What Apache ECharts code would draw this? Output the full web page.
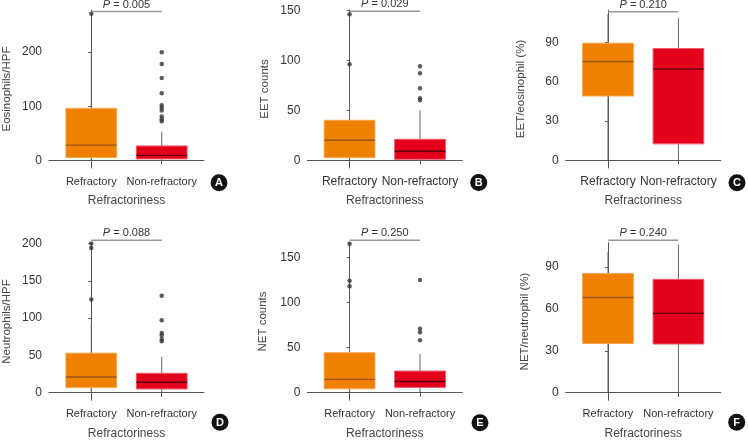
<!DOCTYPE html>
<html><head><meta charset="utf-8">
<script src="https://cdn.jsdelivr.net/npm/echarts@6/dist/echarts.min.js"></script>
<style>html,body{margin:0;padding:0;background:#fff}#c{width:748px;height:441px}</style>
</head><body><div id="c"></div>
<script>
// ---------- data ----------
const categories = ['Refractory', 'Non-refractory'];
const panelLetters = ['A', 'B', 'C', 'D', 'E', 'F'];
const xName = 'Refractoriness';
const yNames = ['Eosinophils/HPF', 'EET counts', 'EET/eosinophil (%)', 'Neutrophils/HPF', 'NET counts', 'NET/neutrophil (%)'];
const yTicks = [[0, 100, 200], [0, 50, 100, 150], [0, 30, 60, 90], [0, 50, 100, 150, 200], [0, 50, 100, 150], [0, 30, 60, 90]];
const pValues = ['0.005', '0.029', '0.210', '0.088', '0.250', '0.240'];

// box statistics: [min, Q1, median, Q3, max]
const eosRefractory = [0, 5, 28, 96, 200];
const eosNonRefractory = [0, 2.5, 9, 26.5, 53];
const eetRefractory = [0, 2.7, 20, 40, 92];
const eetNonRefractory = [0, 1, 9, 21, 50];
const eetPctRefractory = [0, 49, 75.3, 89.3, 111.5];
const eetPctNonRefractory = [0, 12.5, 69.5, 85.2, 108.4];
const neuRefractory = [0, 7, 21, 53, 90];
const neuNonRefractory = [0, 5, 14, 26, 48];
const netRefractory = [0, 4.4, 14.8, 44.3, 100.7];
const netNonRefractory = [0, 5.9, 12.5, 24, 43];
const netPctRefractory = [0, 35.2, 68.1, 85.2, 100.5];
const netPctNonRefractory = [0, 34.8, 56.7, 81, 106];

// outliers
const eosOutRefractory = [271];
const eosOutNonRefractory = [200, 178, 152, 124, 102, 97, 92, 81, 76, 72];
const eetOutRefractory = [146, 96];
const eetOutNonRefractory = [94, 87, 72, 62, 60];
const eetPctOutRefractory = [];
const eetPctOutNonRefractory = [];
const neuOutRefractory = [200, 194, 125];
const neuOutNonRefractory = [130, 97, 80, 77, 72, 69];
const netOutRefractory = [165, 124, 118];
const netOutNonRefractory = [125, 71, 67, 58];
const netPctOutRefractory = [];
const netPctOutNonRefractory = [];

const boxStats = [
  [eosRefractory, eosNonRefractory],
  [eetRefractory, eetNonRefractory],
  [eetPctRefractory, eetPctNonRefractory],
  [neuRefractory, neuNonRefractory],
  [netRefractory, netNonRefractory],
  [netPctRefractory, netPctNonRefractory]
];
const outliers = [
  [eosOutRefractory, eosOutNonRefractory],
  [eetOutRefractory, eetOutNonRefractory],
  [eetPctOutRefractory, eetPctOutNonRefractory],
  [neuOutRefractory, neuOutNonRefractory],
  [netOutRefractory, netOutNonRefractory],
  [netPctOutRefractory, netPctOutNonRefractory]
];

// ---------- layout / style ----------
const FILL = ['#F08000', '#E3001B'];
const EDGE = ['#F5A64A', '#EE5A6C'];
const MED = ['#9A5514', '#5C0008'];
const FONT = 'Liberation Sans, Arial, sans-serif';
const lefts = [49, 307.3, 565.7, 49, 307.3, 565.7];
const tops = [10, 10, 10, 242.7, 242.7, 242.7];
const heights = [158, 158, 158, 157.6, 157.6, 157.6];
const yRange = [[-14.3, 278], [-7.7, 150.3], [-5.9, 114.6], [-10.2, 201], [-8.4, 166.2], [-5.4, 107.2]];
const bracketY = [275, 149, 113.3, 204.4, 169, 109];
const yNameGap = [36, 36, 39, 36, 38, 35];
const catFont = [11, 12, 12, 11, 11, 11];
const circlePos = [[219, 182.7], [478.7, 182.5], [737, 182.7], [220, 422.3], [480, 422.7], [736.7, 422.3]];

const grids = [], xAxes = [], yAxes = [], series = [], graphics = [];

function renderBox(params, api) {
  const x = api.value(0);
  const ci = api.value(6);
  const lo = api.coord([x, api.value(1)]);
  const q1 = api.coord([x, api.value(2)]);
  const md = api.coord([x, api.value(3)]);
  const q3 = api.coord([x, api.value(4)]);
  const hi = api.coord([x, api.value(5)]);
  const w = api.size([1, 0])[0] * 0.72;
  const cx = lo[0];
  return {
    type: 'group', children: [
      { type: 'line', shape: { x1: cx, y1: lo[1], x2: cx, y2: q1[1] }, style: { stroke: '#666', lineWidth: 1 } },
      { type: 'line', shape: { x1: cx, y1: q3[1], x2: cx, y2: hi[1] }, style: { stroke: '#666', lineWidth: 1 } },
      { type: 'rect', shape: { x: cx - w / 2, y: q3[1], width: w, height: q1[1] - q3[1] }, style: { fill: FILL[ci], stroke: EDGE[ci], lineWidth: 1 } },
      { type: 'line', shape: { x1: cx - w / 2, y1: md[1], x2: cx + w / 2, y2: md[1] }, style: { stroke: MED[ci], lineWidth: 1.4 } }
    ]
  };
}

function makeBracketRenderer(pi) {
  return function (params, api) {
    const a = api.coord([0, api.value(0)]);
    const b = api.coord([1, api.value(0)]);
    return {
      type: 'group', children: [
        { type: 'line', shape: { x1: a[0], y1: a[1], x2: b[0], y2: b[1] }, style: { stroke: '#999', lineWidth: 1.5 } },
        {
          type: 'text', x: (a[0] + b[0]) / 2, y: a[1] - 1.5,
          style: {
            text: '{i|P} = ' + pValues[pi], fill: '#333', font: '11px ' + FONT,
            align: 'center', verticalAlign: 'bottom',
            rich: { i: { fontStyle: 'italic', fontSize: 11, fontFamily: FONT, fill: '#333' } }
          }
        }
      ]
    };
  };
}

for (let i = 0; i < 6; i++) {
  grids.push({ left: lefts[i], top: tops[i], width: 155, height: heights[i] });
  xAxes.push({
    gridIndex: i, type: 'value', min: -0.6, max: 1.6,
    name: xName, nameLocation: 'middle', nameGap: 27,
    nameTextStyle: { fontSize: 12, color: '#444', fontFamily: FONT },
    axisLine: { show: true, lineStyle: { color: '#555', width: 1 } },
    axisTick: { show: true, length: 4, lineStyle: { color: '#555' }, customValues: [0, 1] },
    axisLabel: { customValues: [0, 1], formatter: v => categories[Math.round(v)], fontSize: catFont[i], color: '#333', margin: 8, fontFamily: FONT },
    splitLine: { show: false }
  });
  yAxes.push({
    gridIndex: i, type: 'value', min: yRange[i][0], max: yRange[i][1],
    name: yNames[i], nameLocation: 'middle', nameGap: yNameGap[i],
    nameTextStyle: { fontSize: 11.5, color: '#444', fontFamily: FONT },
    axisLine: { show: true, lineStyle: { color: '#555', width: 1 } },
    axisTick: { show: true, length: 3, lineStyle: { color: '#555' }, customValues: yTicks[i] },
    axisLabel: { customValues: yTicks[i], fontSize: 12, color: '#333', margin: 7, fontFamily: FONT },
    splitLine: { show: false }
  });
  const boxData = boxStats[i].map((s, k) => [k, s[0], s[1], s[2], s[3], s[4], k]);
  series.push({
    type: 'custom', xAxisIndex: i, yAxisIndex: i, renderItem: renderBox,
    encode: { x: 0, y: [1, 2, 3, 4, 5] }, data: boxData, clip: false, silent: true
  });
  const outData = [];
  outliers[i].forEach((arr, k) => arr.forEach(v => outData.push([k, v])));
  series.push({
    type: 'scatter', xAxisIndex: i, yAxisIndex: i, data: outData, symbolSize: 4.5,
    itemStyle: { color: '#333' }, clip: false, silent: true
  });
  series.push({
    type: 'custom', xAxisIndex: i, yAxisIndex: i, renderItem: makeBracketRenderer(i),
    data: [[bracketY[i]]], encode: { y: 0 }, clip: false, silent: true
  });
  graphics.push({
    type: 'group', x: circlePos[i][0], y: circlePos[i][1], children: [
      { type: 'circle', shape: { cx: 0, cy: 0, r: 8.5 }, style: { fill: '#111' } },
      { type: 'text', x: 0, y: 0.5, style: { text: panelLetters[i], fill: '#fff', font: 'bold 11px ' + FONT, align: 'center', verticalAlign: 'middle' } }
    ]
  });
}

const chart = echarts.init(document.getElementById('c'), null, { renderer: 'canvas' });
chart.setOption({
  animation: false,
  backgroundColor: '#fff',
  grid: grids, xAxis: xAxes, yAxis: yAxes, series: series, graphic: graphics
});
</script></body></html>
